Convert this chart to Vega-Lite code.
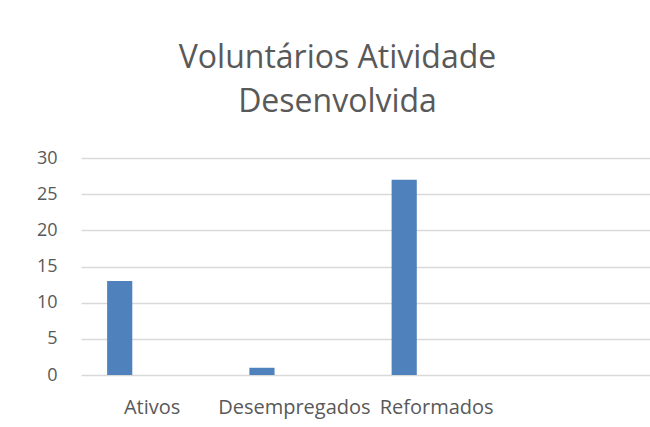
{
  "$schema": "https://vega.github.io/schema/vega-lite/v6.json",
  "autosize": "none",
  "width": 569,
  "height": 217,
  "padding": {"left": 81, "top": 158, "right": 0, "bottom": 52},
  "background": "white",
  "title": {
    "text": ["Voluntários Atividade", "Desenvolvida"],
    "font": "Open Sans",
    "fontSize": 32,
    "fontWeight": "normal",
    "color": "#595959",
    "anchor": "middle",
    "frame": "group",
    "dx": -28,
    "lineHeight": 44,
    "offset": 5,
    "baseline": "alphabetic"
  },
  "data": {
    "values": [
      {"categoria": "Ativos", "serie": "A", "valor": 13},
      {"categoria": "Desempregados", "serie": "A", "valor": 1},
      {"categoria": "Reformados", "serie": "A", "valor": 27}
    ]
  },
  "mark": {"type": "bar", "color": "#4f81bd"},
  "encoding": {
    "x": {
      "field": "categoria",
      "type": "nominal",
      "sort": null,
      "scale": {"domain": ["Ativos", "Desempregados", "Reformados", " "], "paddingInner": 0, "paddingOuter": 0},
      "axis": {
        "title": null,
        "labelAngle": 0,
        "domain": false,
        "ticks": false,
        "labelPadding": 22,
        "labelFont": "Open Sans",
        "labelFontSize": 20,
        "labelColor": "#595959",
        "labelOverlap": false,
        "labelBound": false,
        "grid": false
      }
    },
    "xOffset": {
      "field": "serie",
      "type": "nominal",
      "scale": {"domain": ["A", "B"], "paddingInner": 0.612, "paddingOuter": 0.403}
    },
    "y": {
      "field": "valor",
      "type": "quantitative",
      "scale": {"domain": [0, 30], "nice": false},
      "axis": {
        "title": null,
        "values": [0, 5, 10, 15, 20, 25, 30],
        "domain": false,
        "ticks": false,
        "labelPadding": 24,
        "labelFont": "Open Sans",
        "labelFontSize": 18,
        "labelColor": "#595959",
        "gridColor": "#d9d9d9",
        "gridWidth": 1.3
      }
    }
  },
  "config": {"view": {"stroke": null}}
}
